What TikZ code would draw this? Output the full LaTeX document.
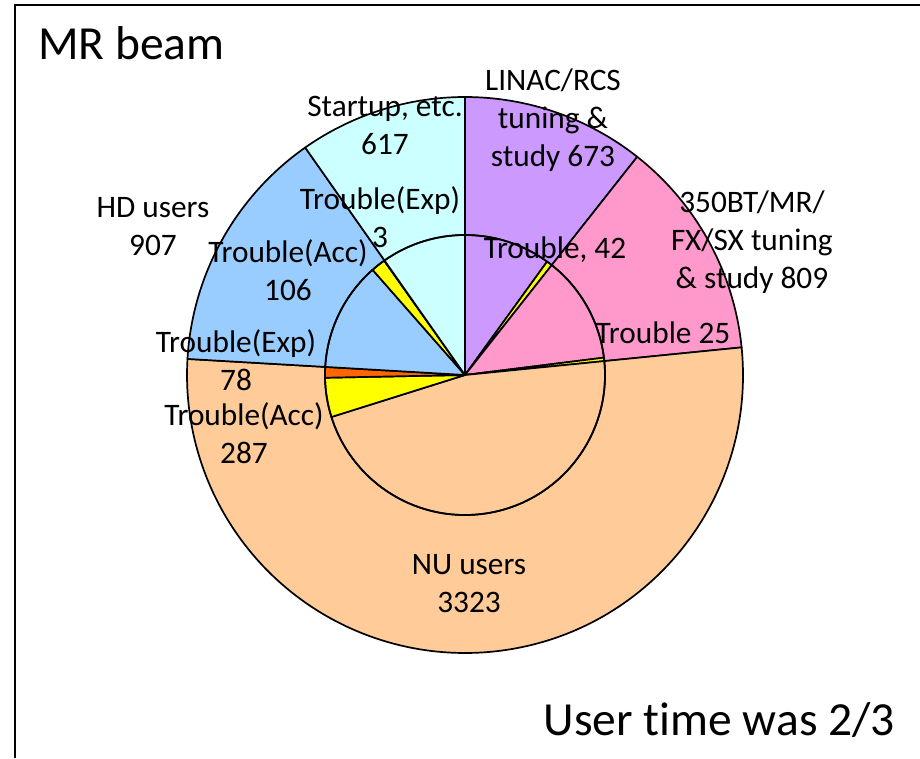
\documentclass[tikz,border=0pt]{standalone}
\usepackage{fontspec}
\setmainfont{Carlito}[Ligatures=NoCommon]
\begin{document}
\begin{tikzpicture}[x=1pt,y=1pt]
  \tikzset{slice/.style={draw=black,line width=1.7pt,line join=round}}
  \tikzset{lbl/.style={align=center,anchor=base,inner sep=0pt,font=\fontsize{31.3}{38}\selectfont}}
  \tikzset{big/.style={inner sep=0pt,font=\fontsize{47.5}{52}\selectfont}}
  \definecolor{linac}{HTML}{CC99FF}
  \definecolor{tuning}{HTML}{FF99CC}
  \definecolor{nu}{HTML}{FFCC99}
  \definecolor{hd}{HTML}{99CCFF}
  \definecolor{startup}{HTML}{CCFFFF}
  \definecolor{acc}{HTML}{FFFF00}
  \definecolor{exp}{HTML}{FF6600}
  \useasboundingbox (-465,-383) rectangle (455,375);
  \draw[line width=1.8pt] (-450,-383) -- (-450,370) -- (455,370);
  % outer ring
  \filldraw[slice,fill=linac] (0,0) -- (90:278) arc[start angle=90,end angle=51.719,radius=278pt] -- cycle;
  \filldraw[slice,fill=tuning] (0,0) -- (51.719:278) arc[start angle=51.719,end angle=5.702,radius=278pt] -- cycle;
  \filldraw[slice,fill=nu] (0,0) -- (5.702:278) arc[start angle=5.702,end angle=-183.313,radius=278pt] -- cycle;
  \filldraw[slice,fill=hd] (0,0) -- (-183.313:278) arc[start angle=-183.313,end angle=-234.904,radius=278pt] -- cycle;
  \filldraw[slice,fill=startup] (0,0) -- (-234.904:278) arc[start angle=-234.904,end angle=-270,radius=278pt] -- cycle;
  % inner ring
  \filldraw[slice,fill=linac] (0,0) -- (90:140) arc[start angle=90,end angle=54.108,radius=140pt] -- cycle;
  \filldraw[slice,fill=acc] (0,0) -- (54.108:140) arc[start angle=54.108,end angle=51.719,radius=140pt] -- cycle;
  \filldraw[slice,fill=tuning] (0,0) -- (51.719:140) arc[start angle=51.719,end angle=7.124,radius=140pt] -- cycle;
  \filldraw[slice,fill=acc] (0,0) -- (7.124:140) arc[start angle=7.124,end angle=5.702,radius=140pt] -- cycle;
  \filldraw[slice,fill=nu] (0,0) -- (5.702:140) arc[start angle=5.702,end angle=-162.552,radius=140pt] -- cycle;
  \filldraw[slice,fill=acc] (0,0) -- (-162.552:140) arc[start angle=-162.552,end angle=-178.878,radius=140pt] -- cycle;
  \filldraw[slice,fill=exp] (0,0) -- (-178.878:140) arc[start angle=-178.878,end angle=-183.313,radius=140pt] -- cycle;
  \filldraw[slice,fill=hd] (0,0) -- (-183.313:140) arc[start angle=-183.313,end angle=-228.704,radius=140pt] -- cycle;
  \filldraw[slice,fill=acc] (0,0) -- (-228.704:140) arc[start angle=-228.704,end angle=-234.733,radius=140pt] -- cycle;
  \filldraw[slice,fill=exp] (0,0) -- (-234.733:140) arc[start angle=-234.733,end angle=-234.904,radius=140pt] -- cycle;
  \filldraw[slice,fill=startup] (0,0) -- (-234.904:140) arc[start angle=-234.904,end angle=-270,radius=140pt] -- cycle;
  \draw[slice] (0,0) circle[radius=140pt];
  % labels
  \node[big,anchor=base west] (mrbeam) at (-427,315) {MR beam};
  \node[big,anchor=base east] (usertime) at (430,-360) {User time was 2/3};
  \node[lbl] (startuplbl) at (-80,220) {Startup, etc.\\617};
  \node[lbl] (hdlbl) at (-312,120) {HD users\\907};
  \node[lbl] (hdexp) at (-85,128) {Trouble(Exp)\\3};
  \node[lbl] (hdacc) at (-177,75) {Trouble(Acc)\\106};
  \node[lbl] (nuexp) at (-229,-15) {Trouble(Exp)\\78};
  \node[lbl] (nuacc) at (-221,-88) {Trouble(Acc)\\287};
  \node[lbl] (nulbl) at (4,-237) {NU users\\3323};
  \node[lbl] (linaclbl) at (88,208) {LINAC/RCS\\tuning \&\\study 673};
  \node[lbl] (linactr) at (90,117) {Trouble, 42};
  \node[lbl] (tuninglbl) at (287,87) {350BT/MR/\\FX/SX tuning\\\& study 809};
  \node[lbl] (tuningtr) at (198,32) {Trouble 25};
\end{tikzpicture}
\end{document}
